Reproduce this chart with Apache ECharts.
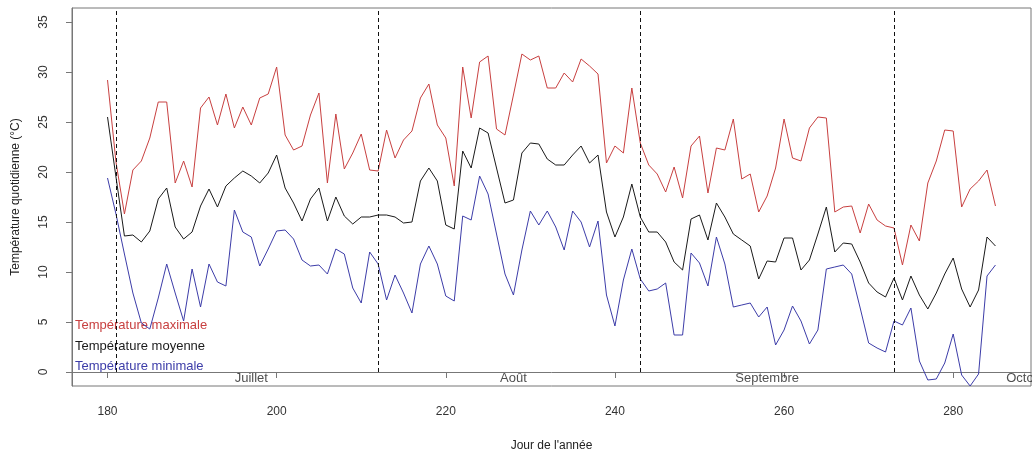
<!DOCTYPE html>
<html>
<head>
<meta charset="utf-8">
<script src="https://cdn.jsdelivr.net/npm/echarts@6/dist/echarts.min.js"></script>
<style>
  html, body { margin: 0; padding: 0; background: #fff; }
  #chart { width: 1032px; height: 457px; }
</style>
</head>
<body>
<div id="chart"></div>
<script>
// jours 180..285
const days = Array.from({ length: 106 }, (_, i) => 180 + i)

const tMax = [
  29.2, 21.0, 15.8, 20.2, 21.1, 23.4, 27.0, 27.0, 18.9, 21.1,
  18.5, 26.4, 27.5, 24.7, 27.8, 24.4, 26.5, 24.7, 27.4, 27.8,
  30.5, 23.7, 22.2, 22.6, 25.7, 27.9, 18.9, 25.8, 20.3, 21.9,
  23.8, 20.2, 20.1, 24.2, 21.4, 23.2, 24.1, 27.4, 28.8, 24.7,
  23.4, 18.6, 30.5, 25.4, 31.0, 31.6, 24.3, 23.7, 27.7, 31.8,
  31.2, 31.6, 28.4, 28.4, 29.9, 29.0, 31.3, 30.6, 29.8, 20.9,
  22.6, 21.9, 28.4, 22.9, 20.7, 19.8, 18.0, 20.5, 17.4, 22.6,
  23.6, 17.9, 22.4, 22.2, 25.3, 19.3, 19.8, 16.0, 17.6, 20.4,
  25.3, 21.4, 21.1, 24.4, 25.5, 25.4, 16.0, 16.5, 16.6, 13.9,
  16.8, 15.2, 14.6, 14.4, 10.7, 14.7, 13.1, 18.9, 21.1, 24.2,
  24.1, 16.5, 18.3, 19.1, 20.2, 16.6
]
const tMean = [
  25.5, 19.5, 13.6, 13.7, 13.0, 14.1, 17.3, 18.4, 14.5, 13.3,
  14.0, 16.6, 18.3, 16.5, 18.6, 19.4, 20.1, 19.6, 18.9, 19.9,
  21.7, 18.4, 16.9, 15.1, 17.3, 18.4, 15.1, 17.5, 15.6, 14.8,
  15.5, 15.5, 15.7, 15.7, 15.5, 14.9, 15.0, 19.1, 20.4, 19.1,
  14.7, 14.3, 22.1, 20.4, 24.4, 23.9, 20.4, 16.9, 17.2, 21.9,
  22.9, 22.8, 21.3, 20.7, 20.7, 21.7, 22.6, 20.9, 21.7, 16.0,
  13.5, 15.5, 18.8, 15.5, 14.0, 14.0, 13.0, 11.0, 10.2, 15.3,
  15.7, 13.2, 16.9, 15.5, 13.8, 13.2, 12.6, 9.3, 11.1, 11.0,
  13.4, 13.4, 10.2, 11.2, 13.8, 16.5, 12.0, 12.9, 12.8, 11.0,
  8.9, 8.0, 7.5, 9.4, 7.2, 9.6, 7.7, 6.3, 7.9, 9.8,
  11.4, 8.3, 6.5, 8.2, 13.5, 12.6
]
const tMin = [
  19.4, 15.8, 11.8, 7.9, 4.9, 4.3, 7.4, 10.8, 7.9, 5.1,
  10.3, 6.5, 10.8, 9.0, 8.6, 16.2, 14.0, 13.5, 10.6, 12.3,
  14.1, 14.2, 13.3, 11.2, 10.6, 10.7, 9.8, 12.3, 11.8, 8.4,
  6.9, 12.0, 10.8, 7.2, 9.7, 7.9, 5.9, 10.8, 12.6, 10.8,
  7.6, 7.1, 15.6, 15.2, 19.6, 17.8, 13.8, 9.8, 7.7, 12.2,
  16.1, 14.7, 16.1, 14.5, 12.2, 16.1, 15.0, 12.5, 15.1, 7.7,
  4.6, 9.2, 12.3, 9.3, 8.1, 8.3, 8.9, 3.7, 3.7, 11.9,
  10.9, 8.6, 13.5, 10.8, 6.5, 6.7, 6.9, 5.5, 6.5, 2.7,
  4.2, 6.6, 5.1, 2.8, 4.2, 10.3, 10.5, 10.7, 9.8, 6.4,
  2.9, 2.4, 2.0, 5.1, 4.7, 6.4, 1.1, -0.8, -0.7, 0.9,
  3.8, -0.3, -1.4, -0.2, 9.6, 10.7
]

const monthStarts = [181, 212, 243, 273]
const monthNames = ['Juillet', 'Août', 'Septembre', 'Octobre']
const monthLabelX = [197, 228, 258, 289]

const xTicks = [180, 200, 220, 240, 260, 280]
const yTicks = [0, 5, 10, 15, 20, 25, 30, 35]

const seriesNames = ['Température maximale', 'Température moyenne', 'Température minimale']
const colors = ['#c84040', '#1a1a1a', '#3c3ca8']

const font = '"Liberation Sans", Arial, sans-serif'
const pair = arr => arr.map((v, i) => [days[i], v])

const chart = echarts.init(document.getElementById('chart'))
const option = {
  animation: false,
  backgroundColor: '#fff',
  textStyle: { fontFamily: font },
  grid: {
    left: 72, right: 1, top: 8, bottom: 67,
    show: true, borderColor: '#777', borderWidth: 1
  },
  xAxis: {
    type: 'value',
    min: 175.8,
    max: 289.2,
    name: "Jour de l'année",
    nameLocation: 'middle',
    nameGap: 54,
    nameTextStyle: { color: '#222', fontSize: 12, fontFamily: font },
    axisLine: { show: true, lineStyle: { color: '#777' } },
    axisTick: { show: true, customValues: xTicks, length: 6, lineStyle: { color: '#777' } },
    axisLabel: { customValues: xTicks, margin: 20, color: '#333', fontSize: 12, fontFamily: font },
    splitLine: { show: false }
  },
  yAxis: {
    type: 'value',
    min: -1.4,
    max: 36.4,
    name: 'Température quotidienne (°C)',
    nameLocation: 'middle',
    nameGap: 50,
    nameRotate: 90,
    nameTextStyle: { color: '#222', fontSize: 12, fontFamily: font },
    axisLine: { show: true, lineStyle: { color: '#777' } },
    axisTick: { show: true, customValues: yTicks, length: 6, lineStyle: { color: '#777' } },
    axisLabel: { customValues: yTicks, rotate: 90, margin: 22, color: '#333', fontSize: 12, fontFamily: font },
    splitLine: { show: false }
  },
  graphic: seriesNames.map((n, i) => ({
    type: 'text',
    left: 75,
    top: 319 + i * 20.5,
    style: { text: n, fill: colors[i], font: '13px ' + font }
  })),
  series: [
    {
      name: seriesNames[0], type: 'line', data: pair(tMax),
      showSymbol: false, lineStyle: { width: 1, color: colors[0] }, color: colors[0],
      markLine: {
        silent: true,
        symbol: 'none',
        label: { show: false },
        lineStyle: { type: [4, 3], color: '#111', width: 1 },
        data: monthStarts.map(d => [{ coord: [d, 0] }, { coord: [d, 36.4] }])
      }
    },
    {
      name: seriesNames[1], type: 'line', data: pair(tMean),
      showSymbol: false, lineStyle: { width: 1, color: colors[1] }, color: colors[1]
    },
    {
      name: seriesNames[2], type: 'line', data: pair(tMin),
      showSymbol: false, lineStyle: { width: 1, color: colors[2] }, color: colors[2]
    },
    {
      type: 'scatter',
      symbolSize: 0,
      silent: true,
      data: monthNames.map((m, i) => [monthLabelX[i], 0, m]),
      label: {
        show: true,
        position: 'inside',
        offset: [0, 6],
        formatter: p => p.data[2],
        color: '#222',
        fontSize: 13,
        fontFamily: font
      }
    }
  ]
}
chart.setOption(option)
</script>
</body>
</html>
